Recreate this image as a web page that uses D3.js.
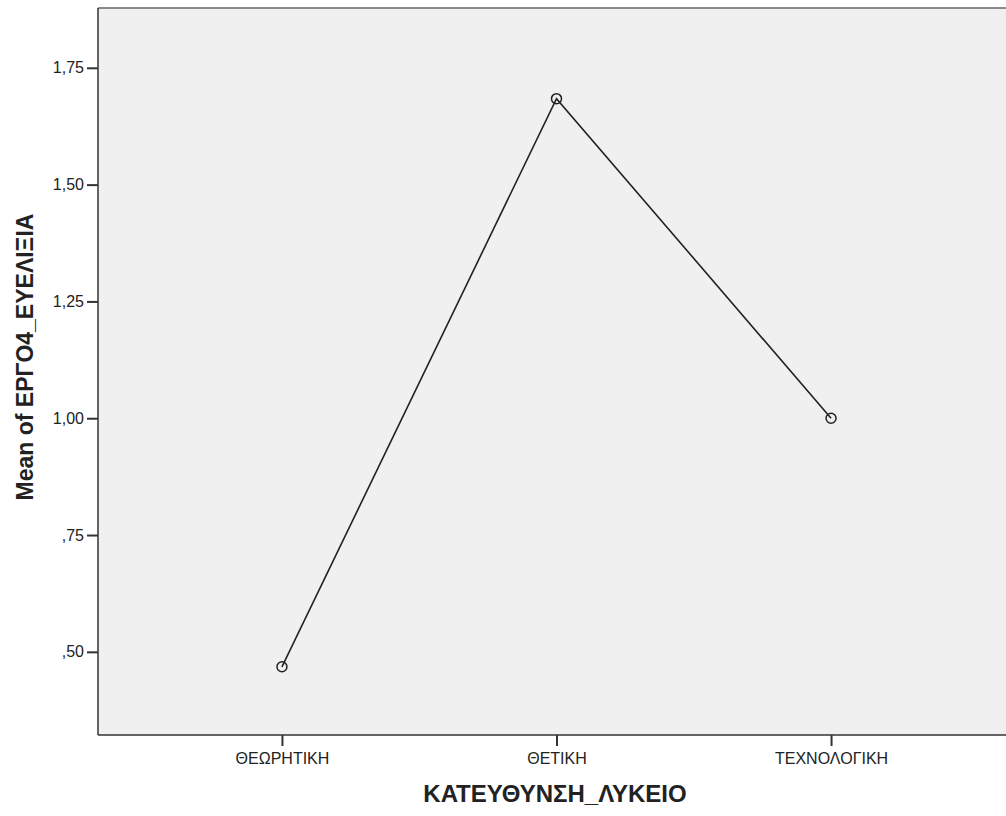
<!DOCTYPE html>
<html>
<head>
<meta charset="utf-8">
<script src="https://cdn.jsdelivr.net/npm/d3@7"></script>
<style>
  html, body { margin: 0; padding: 0; background: #fff; }
  svg { display: block; font-family: Arial, "Liberation Sans", sans-serif; }
</style>
</head>
<body>
<svg id="chart" width="1006" height="816"></svg>
<script>
// Group categories and mean values
const categories = ["ΘΕΩΡΗΤΙΚΗ", "ΘΕΤΙΚΗ", "ΤΕΧΝΟΛΟΓΙΚΗ"];
const means = [0.468, 1.684, 1.00];
const yTicks = [0.50, 0.75, 1.00, 1.25, 1.50, 1.75];
const xTitle = "ΚΑΤΕΥΘΥΝΣΗ_ΛΥΚΕΙΟ";
const yTitle = "Mean of ΕΡΓΟ4_ΕΥΕΛΙΞΙΑ";

const svg = d3.select("#chart");
const plot = { left: 98, top: 8, right: 1015, bottom: 735 };

const x = d3.scalePoint()
  .domain(categories)
  .range([plot.left, plot.right])
  .padding(0.67);

const y = d3.scaleLinear()
  .domain([0.322, 1.878])
  .range([plot.bottom, plot.top]);

const fmt = v => {
  const s = d3.format(".2f")(v).replace(".", ",");
  return s.startsWith("0") ? s.slice(1) : s;
};

// plot background
svg.append("rect")
  .attr("x", plot.left).attr("y", plot.top)
  .attr("width", plot.right - plot.left).attr("height", plot.bottom - plot.top)
  .attr("fill", "#f0f0f0");

// top frame line
svg.append("line")
  .attr("x1", plot.left).attr("x2", plot.right)
  .attr("y1", plot.top).attr("y2", plot.top)
  .attr("stroke", "#8a8a8a").attr("stroke-width", 2);

// y axis
const yAxis = svg.append("g")
  .attr("transform", `translate(${plot.left},0)`)
  .call(d3.axisLeft(y).tickValues(yTicks).tickFormat(fmt).tickSize(11).tickPadding(3));
yAxis.select(".domain").remove();
yAxis.selectAll(".tick line").attr("stroke", "#333").attr("stroke-width", 2);
yAxis.selectAll(".tick text").attr("font-size", 16).attr("fill", "#222");
svg.append("line")
  .attr("x1", plot.left).attr("x2", plot.left)
  .attr("y1", plot.top).attr("y2", plot.bottom)
  .attr("stroke", "#333").attr("stroke-width", 1.5);

// x axis
const xAxis = svg.append("g")
  .attr("transform", `translate(0,${plot.bottom})`)
  .call(d3.axisBottom(x).tickSize(11).tickPadding(7));
xAxis.select(".domain").remove();
xAxis.selectAll(".tick line").attr("stroke", "#333").attr("stroke-width", 2);
xAxis.selectAll(".tick text").attr("font-size", 16).attr("fill", "#222");
svg.append("line")
  .attr("x1", plot.left).attr("x2", plot.right)
  .attr("y1", plot.bottom).attr("y2", plot.bottom)
  .attr("stroke", "#333").attr("stroke-width", 1.5);

// mean line
const data = categories.map((c, i) => ({ c, v: means[i] }));
svg.append("path")
  .datum(data)
  .attr("fill", "none")
  .attr("stroke", "#222")
  .attr("stroke-width", 1.6)
  .attr("d", d3.line().x(d => x(d.c)).y(d => y(d.v)));

// point markers
svg.selectAll("circle.pt")
  .data(data)
  .join("circle")
  .attr("class", "pt")
  .attr("cx", d => x(d.c)).attr("cy", d => y(d.v))
  .attr("r", 5)
  .attr("fill", "none")
  .attr("stroke", "#222")
  .attr("stroke-width", 1.5);

// axis titles
svg.append("text")
  .attr("x", 555)
  .attr("y", 802)
  .attr("text-anchor", "middle")
  .attr("font-size", 24).attr("font-weight", "bold").attr("fill", "#222")
  .text(xTitle);

svg.append("text")
  .attr("transform", `translate(33,357) rotate(-90)`)
  .attr("text-anchor", "middle")
  .attr("font-size", 23).attr("font-weight", "bold").attr("fill", "#222")
  .text(yTitle);
</script>
</body>
</html>
